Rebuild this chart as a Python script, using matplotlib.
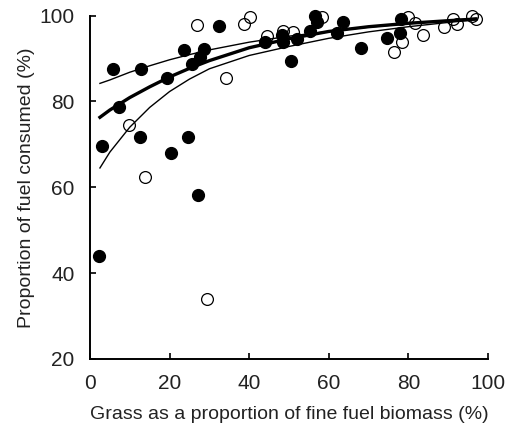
import matplotlib
matplotlib.use("Agg")
import matplotlib.pyplot as plt

plt.rcParams['font.family'] = ['Liberation Sans', 'DejaVu Sans']

# filled circles
filled_x = [2.3, 3.1, 5.9, 7.4, 12.6, 12.8, 19.4, 20.4, 23.6, 24.5, 25.7, 27.2, 27.6, 28.7,
            32.5, 44.0, 48.2, 48.6, 50.4, 51.9, 55.4, 56.5, 57.0, 62.1, 63.6, 68.0, 74.7,
            77.9, 78.1]
filled_y = [43.9, 69.6, 87.5, 78.6, 71.7, 87.6, 85.5, 67.9, 92.0, 71.7, 88.6, 58.3, 90.3, 92.1,
            97.6, 93.9, 95.5, 93.9, 89.3, 94.5, 96.5, 99.8, 98.6, 95.9, 98.6, 92.5, 94.7,
            95.9, 99.3]

# open circles
open_x = [9.8, 13.8, 27.0, 29.5, 34.1, 38.8, 40.2, 44.4, 48.6, 51.1, 58.2, 76.5, 78.3,
          80.0, 81.7, 83.6, 88.9, 91.3, 92.3, 95.9, 97.0]
open_y = [74.5, 62.4, 97.8, 34.0, 85.5, 98.0, 99.6, 95.3, 96.5, 96.2, 99.7, 91.6, 93.9,
          99.7, 98.2, 95.5, 97.4, 99.3, 98.0, 99.8, 99.3]

# fitted curve and bounds
curve_x = [2.5, 5, 10, 15, 20, 25, 30, 40, 50, 60, 70, 80, 90, 97]
fit_y = [76.3, 78.0, 80.9, 83.4, 85.7, 87.7, 89.5, 92.5, 94.6, 96.3, 97.4, 98.2, 98.8, 99.2]
upper_y = [84.2, 85.0, 86.8, 88.3, 89.7, 90.9, 92.0, 93.8, 95.2, 96.3, 97.3, 98.1, 98.8, 99.4]
lower_y = [64.5, 68.2, 74.0, 78.6, 82.3, 85.2, 87.6, 90.7, 92.8, 94.7, 96.2, 97.4, 98.4, 99.0]

fig = plt.figure(figsize=(5.07, 4.32), dpi=100)
ax = fig.add_axes([0.1775, 0.169, 0.785, 0.795])

ax.plot(curve_x, upper_y, color='black', lw=1.0, zorder=2)
ax.plot(curve_x, lower_y, color='black', lw=1.0, zorder=2)
ax.plot(curve_x, fit_y, color='black', lw=2.4, zorder=2)

ax.plot(open_x, open_y, 'o', ms=8.5, mfc='none', mec='black', mew=0.9, clip_on=False, zorder=3)
ax.plot(filled_x, filled_y, 'o', ms=8.5, mfc='black', mec='black', clip_on=False, zorder=4)

ax.set_xlim(0, 100)
ax.set_ylim(20, 100)
ax.set_xticks([0, 20, 40, 60, 80, 100])
ax.set_yticks([20, 40, 60, 80, 100])

for s in ['top', 'right']:
    ax.spines[s].set_visible(False)
for s in ['left', 'bottom']:
    ax.spines[s].set_linewidth(1.4)

ax.tick_params(direction='in', length=4, width=1.4, labelsize=15, pad=11, colors='#222222')
ax.set_xlabel('Grass as a proportion of fine fuel biomass (%)', fontsize=14, labelpad=9,
              color='#222222')
ax.set_ylabel('Proportion of fuel consumed (%)', fontsize=14, labelpad=3.5, color='#222222')

fig.savefig('out.png', dpi=100)
